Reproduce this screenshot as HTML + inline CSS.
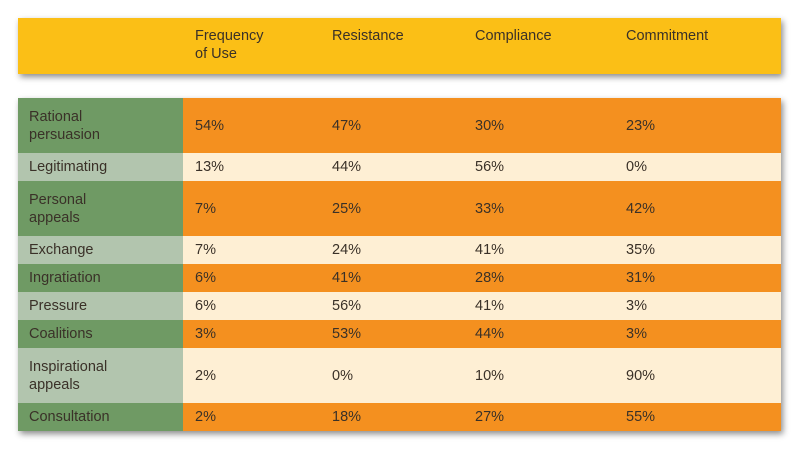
<!DOCTYPE html>
<html><head><meta charset="utf-8"><style>
body{margin:0;width:800px;height:449px;background:#fff;position:relative;overflow:hidden;font-family:"Liberation Sans",sans-serif;color:#3a3128;font-size:14.5px}
.box{position:absolute;left:18px;width:763px;box-shadow:2px 3px 6px rgba(0,0,0,.45)}
#hdr{top:18px;height:56px;background:#fbbf16}
.h{position:absolute;top:9px;line-height:18px}
#tbl{top:98px;height:333px}
.row{position:absolute;left:0;width:763px}
.lab{position:absolute;left:0;top:0;bottom:0;width:165px;padding-left:11px;box-sizing:border-box;display:flex;align-items:center;line-height:18px}
.c{position:absolute;top:0;bottom:0;display:flex;align-items:center}
</style></head><body>
<div id="hdr" class="box">
<div class="h" style="left:177px">Frequency<br>of Use</div>
<div class="h" style="left:314px">Resistance</div>
<div class="h" style="left:457px">Compliance</div>
<div class="h" style="left:608px">Commitment</div>
</div>
<div id="tbl" class="box"></div>
<script>
const tactics=["Rational<br>persuasion","Legitimating","Personal<br>appeals","Exchange","Ingratiation","Pressure","Coalitions","Inspirational<br>appeals","Consultation"];
const frequency=[54,13,7,7,6,6,3,2,2];
const resistance=[47,44,25,24,41,56,53,0,18];
const compliance=[30,56,33,41,28,41,44,10,27];
const commitment=[23,0,42,35,31,3,3,90,55];
const tbl=document.getElementById('tbl');
const colX=[177,314,457,608];
let y=0;
tactics.forEach((t,i)=>{
  const h=t.includes('<br>')?55:28;
  const r=document.createElement('div');
  
  
  r.className='row';
  r.style.top=y+'px';r.style.height=h+'px';
  r.style.background=i%2===0?'#f4901f':'#feefd4';
  const l=document.createElement('div');
  
  
  l.className='lab';l.innerHTML=t;
  l.style.background=i%2===0?'#6f9a64':'#b2c5ae';
  r.appendChild(l);
  [frequency,resistance,compliance,commitment].forEach((s,j)=>{
    const c=document.createElement('div');
    
    
    c.className='c';c.style.left=colX[j]+'px';c.textContent=s[i]+'%';
    r.appendChild(c);
  });
  tbl.appendChild(r);
  y+=h;
});
</script>
</body></html>
